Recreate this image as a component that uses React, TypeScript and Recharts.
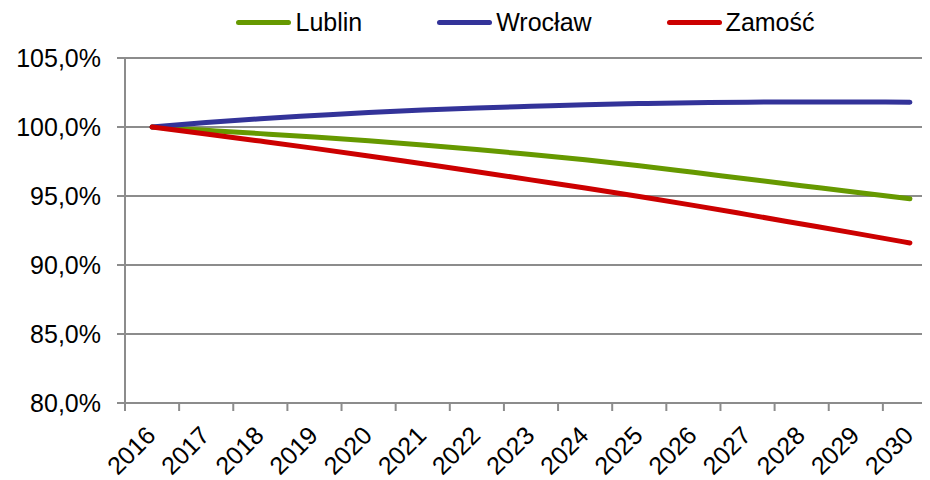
import React from 'react';
import { LineChart, Line, XAxis, YAxis, CartesianGrid, Legend } from 'recharts';

const years = ['2016','2017','2018','2019','2020','2021','2022','2023','2024','2025','2026','2027','2028','2029','2030'];
const lublin = [100, 99.76, 99.52, 99.27, 99.0, 98.7, 98.37, 98.0, 97.62, 97.2, 96.72, 96.23, 95.75, 95.27, 94.8];
const wroclaw = [100, 100.33, 100.6, 100.83, 101.05, 101.23, 101.38, 101.5, 101.62, 101.7, 101.76, 101.8, 101.81, 101.81, 101.8];
const zamosc = [100, 99.5, 98.98, 98.45, 97.9, 97.33, 96.76, 96.17, 95.58, 94.96, 94.32, 93.65, 92.97, 92.29, 91.6];
const yTicks = [80, 85, 90, 95, 100, 105];

const seriesInfo = [
  { key: 'Lublin', color: '#669900' },
  { key: 'Wrocław', color: '#333399' },
  { key: 'Zamość', color: '#CC0000' },
];

const data = years.map((y, i) => ({
  year: y,
  Lublin: lublin[i],
  'Wrocław': wroclaw[i],
  'Zamość': zamosc[i],
}));

const FONT = '"Liberation Sans", Arial, sans-serif';
const W = 930;
const H = 472;
const PLOT_LEFT = 117;
const PLOT_RIGHT = 929;
const BAND = (PLOT_RIGHT - PLOT_LEFT) / years.length;

const XTick = (props: any) => {
  const { x, y, payload } = props;
  const px = x + 5;
  const py = y + 34;
  return (
    <g>
      <line x1={x - BAND / 2} y1={y} x2={x - BAND / 2} y2={y + 8} stroke="#8c8c8c" strokeWidth={2} />
      <text
        x={px}
        y={py}
        textAnchor="end"
        transform={`rotate(-45, ${px}, ${py})`}
        fontFamily={FONT}
        fontSize={25}
        fill="#000"
      >
        {payload.value}
      </text>
    </g>
  );
};

const LegendContent = () => (
  <div
    style={{
      display: 'flex',
      justifyContent: 'center',
      alignItems: 'center',
      height: 24,
      paddingLeft: 105,
      fontFamily: FONT,
      fontSize: 25,
      color: '#000',
    }}
  >
    {seriesInfo.map((s, i) => (
      <div key={s.key} style={{ display: 'flex', alignItems: 'center', marginLeft: i === 0 ? 0 : 75 }}>
        <div style={{ width: 55, height: 5, borderRadius: 3, background: s.color, marginRight: 4 }} />
        <span style={{ lineHeight: '24px' }}>{s.key}</span>
      </div>
    ))}
  </div>
);

export default function App() {
  return (
    <LineChart width={W} height={H} data={data} margin={{ top: 10, right: 1, left: 0, bottom: 0 }}>
      <CartesianGrid horizontal={true} vertical={false} stroke="#8c8c8c" strokeWidth={2} />
      <XAxis
        dataKey="year"
        height={77}
        padding={{ left: BAND / 2, right: BAND / 2 }}
        tickSize={0}
        tickMargin={0}
        interval={0}
        tick={<XTick />}
        tickLine={false}
        axisLine={{ stroke: '#8c8c8c', strokeWidth: 2 }}
      />
      <YAxis
        width={117}
        domain={[80, 105]}
        ticks={yTicks}
        interval={0}
        tickSize={8}
        tickMargin={16}
        tickFormatter={(v: number) => v.toFixed(1).replace('.', ',') + '%'}
        tick={{ fontFamily: FONT, fontSize: 25, fill: '#000' }}
        tickLine={{ stroke: '#8c8c8c', strokeWidth: 2 }}
        axisLine={{ stroke: '#8c8c8c', strokeWidth: 2 }}
      />
      <Legend verticalAlign="top" height={40} wrapperStyle={{ top: 2, left: 0, width: W }} content={<LegendContent />} />
      {seriesInfo.map((s) => (
        <Line
          key={s.key}
          type="monotone"
          dataKey={s.key}
          stroke={s.color}
          strokeWidth={5}
          strokeLinecap="round"
          dot={false}
          activeDot={false}
          isAnimationActive={false}
        />
      ))}
    </LineChart>
  );
}
